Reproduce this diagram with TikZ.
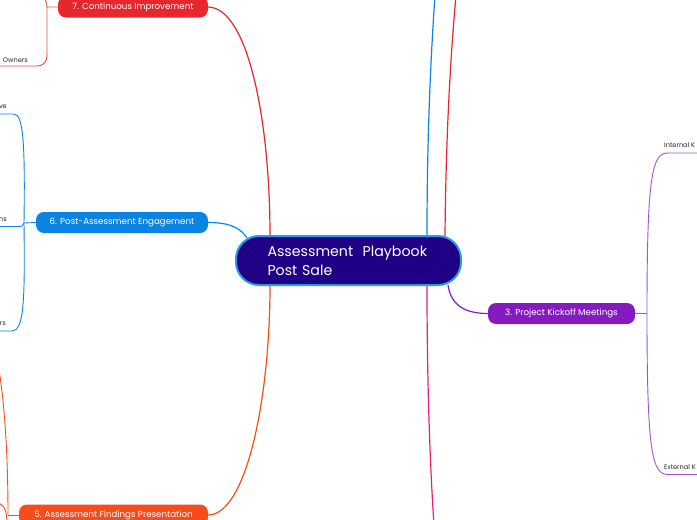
\documentclass[tikz,border=0pt]{standalone}
\usepackage{fontspec}
\setmainfont{Poppins}
\usetikzlibrary{backgrounds}
\definecolor{navy}{RGB}{32,0,132}
\definecolor{cborder}{RGB}{44,152,232}
\definecolor{cred}{RGB}{232,38,46}
\definecolor{cblue}{RGB}{10,132,226}
\definecolor{corange}{RGB}{246,76,28}
\definecolor{cpurple}{RGB}{133,26,192}
\definecolor{clpurple}{RGB}{160,80,220}
\definecolor{cpink}{RGB}{232,30,120}
\begin{document}
\begin{tikzpicture}[x=1pt,y=-1pt,
  central/.style={rectangle, rounded corners=23pt, fill=navy, draw=cborder, line width=2pt,
    minimum width=225pt, minimum height=49pt, text width=162pt, align=left, text=white,
    font=\fontsize{14.2}{19}\selectfont},
  branch/.style={rectangle, rounded corners=8pt, text=white, font=\fontsize{8.7}{10}\selectfont,
    minimum height=21pt, inner sep=0pt},
  leafl/.style={font=\fontsize{6.6}{8}\selectfont, text=black!85, inner sep=0pt, anchor=base east},
  leafr/.style={font=\fontsize{6.6}{8}\selectfont, text=black!85, inner sep=0pt, anchor=base west},
  mainconn/.style={line width=1.2pt},
  subconn/.style={line width=0.9pt},
]
\useasboundingbox (0,0) rectangle (697,520);
% nodes
\node[central] (c) at (348.5,260.5) {\raisebox{-1.5pt}{Assessment\ \ Playbook}\\\raisebox{-1.5pt}{Post Sale}};
\node[branch, fill=cred, minimum width=150pt] (n7) at (133,7) {7. Continuous Improvement};
\node[branch, fill=cblue, minimum width=172pt] (n6) at (122,222.5) {6. Post-Assessment Engagement};
\node[branch, fill=corange, minimum width=189pt] (n5) at (113.5,515) {5. Assessment Findings Presentation};
\node[branch, fill=cpurple, minimum width=147pt] (n3) at (561.5,313.5) {3. Project Kickoff Meetings};
% leaves
\node[leafl] (l7a) at (28,62) {Owners};
\node[leafl] (l6a) at (7,108.5) {ve};
\node[leafl] (l6b) at (7,221) {ns};
\node[leafl] (l6c) at (6,325.5) {rs};
\node[leafr] (l3a) at (664,147.5) {Internal K};
\node[leafr] (l3b) at (664,469.5) {External K};
% coordinates
\coordinate (c7) at (270,236);
\coordinate (c5) at (270,285);
\coordinate (c3) at (448,285);
\coordinate (c6) at (247,238);
\coordinate (cb) at (427,236);
\coordinate (cr) at (445,236);
\coordinate (cp) at (427,285);
\coordinate (j7) at (47,7);
\coordinate (j6) at (24,223);
\coordinate (j5) at (8,515);
\coordinate (j3) at (647,313.5);
\begin{scope}[on background layer]
% main connectors
\draw[mainconn, cred] (n7.east) .. controls (248,8) and (270,120) .. (c7);
\draw[mainconn, cblue] (n6.east) .. controls (232,222.5) and (241,229) .. (c6);
\draw[mainconn, corange] (c5) .. controls (270,400) and (246,515) .. (n5.east);
\draw[mainconn, cpurple] (c3) .. controls (451,306) and (466,313.5) .. (n3.west);
\draw[mainconn, cblue] (cb) .. controls (427,120) and (432,40) .. (435,-5);
\draw[mainconn, cred] (cr) .. controls (446,120) and (452,40) .. (456,-5);
\draw[mainconn, cpink] (cp) .. controls (427,400) and (431,480) .. (434,525);
% group 7
\draw[subconn, cred!85] (n7.west) -- (j7) -- (47,54) .. controls (47,62) and (44,66) .. (36,66) -- (-2,66);
\draw[subconn, cred!85] (j7) .. controls (47,2) and (45,-2) .. (40,-6);
% group 6
\draw[subconn, cblue] (n6.west) -- (j6);
\draw[subconn, cblue] (j6) .. controls (25,150) and (24,114) .. (14,114) -- (-2,114);
\draw[subconn, cblue] (j6) .. controls (23,226) and (22,226.5) .. (18,226.5) -- (-2,226.5);
\draw[subconn, cblue] (j6) .. controls (25,300) and (24,331) .. (12,331) -- (-2,331);
% group 5
\draw[subconn, corange] (n5.west) -- (j5);
\draw[subconn, corange] (j5) .. controls (8,450) and (4,400) .. (-1,370);
\draw[subconn, corange] (-1,503) .. controls (5,506) and (7,512) .. (7,525);
% group 3
\draw[subconn, clpurple] (n3.east) -- (j3);
\draw[subconn, clpurple] (j3) .. controls (647,175) and (652,153) .. (668,153) -- (700,153);
\draw[subconn, clpurple] (j3) .. controls (647,452) and (652,474.5) .. (668,474.5) -- (700,474.5);
\end{scope}
\end{tikzpicture}
\end{document}
